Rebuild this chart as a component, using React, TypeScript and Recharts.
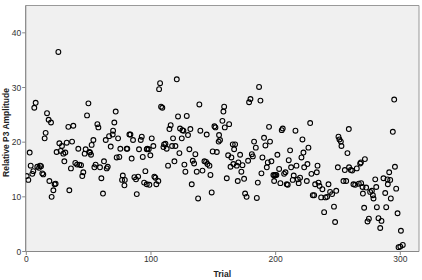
import React from 'react';
import { ScatterChart, Scatter, XAxis, YAxis, ReferenceArea, Label } from 'recharts';

const trials = [
  0.3, 1.6, 2.7, 3.5, 4.8, 5.6, 6.4, 7.5, 8.8, 10.2, 11, 11.8, 12.8, 13.6, 14.7, 15.5, 16.6, 17.9, 18.5, 19.8,
  20.3, 21.7, 22.7, 23.5, 24.3, 25.7, 26.5, 27.6, 28.6, 29.7, 30.5, 31.3, 32.4, 33.7, 34.5, 35.8, 36.7, 37.7, 39.3, 40.7,
  41.7, 42.5, 43.9, 44.9, 45.7, 46.8, 47.6, 48.7, 49.8, 50.6,
  51.1, 51.9, 52.4, 53.8, 54.6, 55.6, 57, 57.8, 59.1, 60.2, 61.5, 62.3, 63.7, 64.5, 65.3, 66.4, 67.7, 69.3, 69.6, 70.6,
  71.7, 72.5, 73.6, 74.6, 75.4, 76.8, 77.4, 78.7, 79.0, 80.5, 81, 82.7, 83.5, 84.5, 85.6, 86.7, 88, 88.6, 89.7, 90.4,
  91.8, 92.6, 93.4, 94.5, 95.5, 96.6, 96.6, 97.1, 98.2, 98.7, 99.5, 100.6, 101.9, 102.7, 103.5, 104.3, 105.9, 106.5, 107.3, 108.1,
  109.1, 110, 110.5,
  111.6, 112.6, 113.7, 114.8, 115.8, 116.9, 117.7, 118.8, 119.6, 120.7, 121.7, 122.8, 123.3, 124.7, 125.2, 126, 126.8, 127.6, 128.7, 129.7,
  130.8, 131.6, 132.7, 133.5, 134.6, 135.6, 136.7, 137.8, 138.8, 139.6, 141.3, 142.9, 144.2, 144.7, 145.3, 146.9, 147.7, 148.7, 149.5, 150.9,
  151.7, 152.8, 154.3, 154.6, 155.4, 157.3, 158.1, 158.7, 159.2, 160.8, 161.9, 162.7, 163.8, 164.5, 165.6, 166.1, 166.7,
  167.5, 168.8, 169.6, 170.1, 171.5, 172.5, 173.4, 174.7, 175.5, 176.7, 177.9, 178.7, 179.8, 180.9, 181.7, 182.7, 184.1, 184.9, 185.7, 186.7,
  187.8, 188.6, 189.4, 190.7, 191.8, 192.9, 193.7, 194.7, 195.5, 196.6, 198.2, 198.8, 199, 199.8, 200.6, 201.4, 202.8, 203.8, 204.9, 205.7,
  206.8, 207.9, 208.9, 209.7, 210.5, 211.6, 212.4, 213.7, 214.5, 215.9, 216.7, 217.8, 218.5, 219.6, 220.7, 221.5, 222.3, 222.9,
  225, 225.5, 226.3, 227.7, 228.7, 229.8, 230.9, 231.7, 233, 233.6, 234.4, 235.2, 236.5, 237.5, 238.9, 240, 241.3, 242.4, 243.7, 245.3,
  246.8, 247.7, 248.6, 249.9, 250.4, 251.2, 252.3, 252.8, 254.4, 255.5, 256.6, 257.6, 258.7, 258.9, 260.3, 261.4, 262.4, 263.8, 265.1, 266.7,
  267.8, 268.4, 268.6, 269.7, 270, 271, 271.6, 272.6, 273.7, 274.8, 275.8, 277.2, 278, 278.5, 279.9, 280.7,
  281.2, 282.5, 283.9, 284.9, 286.5, 287.9, 288.7, 289.7, 290, 291.1, 291.9, 292.4, 294, 295.1, 295.7, 296.7, 297.8, 298.6, 300, 300.5,
  302
];

const amplitudes = [
  13.8, 13.1, 18.1, 15.7, 14.2, 14.7, 26.3, 27.2, 15.5, 15.3, 15.7, 15.6, 14.3, 14.1, 20.7, 21.7, 25.3, 24.1, 12.9, 23.6,
  10.0, 11.2, 12.3, 12.4, 18.2, 36.5, 19.8, 18.4, 19.3, 17.9, 16.5, 18.1, 19.9, 22.8, 11.2, 15.2, 20.1, 23.0, 16.2, 15.9,
  18.8, 15.9, 15.8, 13.8, 14.5, 17.9, 18.7, 24.9, 27.1, 18.2,
  18.1, 17.7, 19.5, 20.4, 15.4, 15.9, 23.3, 22.7, 15.4, 13.4, 10.6, 16.5, 20.4, 15.2, 15.5, 21.1, 19.2, 21.4, 22.1, 23.6,
  25.6, 17.2, 20.7, 17.3, 18.8, 13.1, 13.9, 12.1, 13.1, 18.8, 18.8, 21.4, 21.4, 17.0, 20.4, 13.6, 13.2, 10.5, 13.7, 18.7,
  20.4, 21.0, 17.3, 12.6, 14.7, 12.3, 18.7, 18.8, 18.7, 12.2, 17.6, 20.7, 19.3, 13.7, 13.5, 12.3, 12.9, 29.7, 30.8, 26.5,
  26.3, 19.1, 19.6,
  19.7, 18.8, 15.7, 22.4, 23.1, 19.3, 20.7, 16.5, 19.3, 31.5, 24.7, 18.0, 22.5, 20.7, 22.2, 22.1, 15.9, 14.6, 24.8, 21.3,
  18.7, 22.4, 12.3, 16.6, 16.1, 17.8, 14.6, 9.7, 26.9, 22.1, 14.8, 16.5, 16.4, 21.4, 16.0, 15.7, 14.0, 10.8, 18.3, 22.9,
  22.7, 18.2, 20.1, 21.3, 20.4, 23.9, 25.6, 26.5, 22.7, 13.4, 17.6, 23.3, 15.5, 17.2, 19.6, 16.0, 18.7,
  19.6, 15.7, 12.9, 16.3, 17.7, 14.6, 15.8, 13.3, 10.6, 10.0, 16.6, 27.3, 27.9, 17.8, 17.4, 20.1, 19.0, 9.8, 12.6, 30.1,
  27.6, 14.3, 17.2, 20.8, 19.4, 15.4, 16.3, 22.8, 20.1, 16.5, 14.0, 12.9, 13.9, 14.0, 14.0, 17.7, 15.1, 12.5, 22.2, 22.5,
  14.2, 14.5, 12.3, 12.2, 16.7, 18.5, 15.4, 13.1, 13.9, 22.1, 15.7, 13.2, 12.5, 13.5, 17.2, 20.5, 18.1, 15.4,
  12.9, 16.0, 19.0, 23.5, 14.2, 10.3, 10.3, 12.3, 14.5, 15.7, 12.6, 12.0, 9.9, 11.4, 7.2, 9.9, 10.0, 12.3, 10.9, 10.5,
  8.2, 5.4, 11.1, 15.4, 21.0, 20.5, 20.1, 19.3, 12.9, 14.9, 12.9, 18.0, 22.4, 15.4, 14.9, 14.8, 12.3, 12.2, 15.2, 12.4,
  16.1, 16.3, 12.5, 11.8, 10.6, 8.0, 16.9, 11.7, 5.5, 6.0, 10.9, 11.1, 10.3, 9.7, 13.2, 11.8,
  8.1, 6.1, 4.3, 5.6, 13.4, 10.7, 8.1, 13.2, 12.3, 14.5, 13.1, 9.7, 21.9, 27.8, 15.5, 11.5, 7.0, 0.8, 0.9, 3.8,
  1.2
];

const xTicks = [0, 100, 200, 300];
const yTicks = [0, 10, 20, 30, 40];

const data = trials.map((t, i) => ({ trial: t, amp: amplitudes[i] }));

const FONT = 'Liberation Sans, Arial, sans-serif';

const Ring = (props: any) => {
  const { cx, cy } = props;
  if (cx == null || cy == null) return null;
  return <circle cx={cx} cy={cy} r={2.4} fill="none" stroke="#000" strokeWidth={1.1} />;
};

const YTitle = (props: any) => {
  const vb = props.viewBox || {};
  const cy = (vb.y ?? 5.5) + (vb.height ?? 246) / 2 + 4;
  const cx = 6;
  return (
    <text
      x={cx}
      y={cy}
      transform={`rotate(-90, ${cx}, ${cy})`}
      textAnchor="middle"
      dominantBaseline="central"
      style={{ fontSize: 8.5, fontWeight: 'bold', fill: '#222', fontFamily: FONT }}
    >
      Relative P3 Amplitude
    </text>
  );
};

const tickStyle = { fontSize: 8.5, fill: '#333', fontFamily: FONT };

export default function App() {
  return (
    <div style={{ position: 'absolute', left: 0, top: 0, width: 422, height: 280, background: '#fff' }}>
      <ScatterChart width={422} height={280} margin={{ top: 5.5, right: 3, left: 0, bottom: 0 }}>
        <XAxis
          type="number"
          dataKey="trial"
          domain={[-0.5, 315]}
          ticks={xTicks}
          height={28.5}
          stroke="#888"
          tickSize={3.5}
          tickMargin={1}
          tick={tickStyle}
          allowDataOverflow
        >
          <Label
            value="Trial"
            position="insideBottom"
            offset={3}
            style={{ fontSize: 8.5, fontWeight: 'bold', fill: '#222', fontFamily: FONT }}
          />
        </XAxis>
        <YAxis
          type="number"
          dataKey="amp"
          domain={[0, 45]}
          ticks={yTicks}
          width={25.7}
          stroke="#888"
          tickSize={3.5}
          tickMargin={1}
          tick={tickStyle}
          allowDataOverflow
        >
          <Label content={YTitle} />
        </YAxis>
        <ReferenceArea x1={-0.5} x2={315} y1={0} y2={45} fill="#f0f0f0" fillOpacity={1} stroke="#999" strokeWidth={1} ifOverflow="visible" />
        <Scatter data={data} shape={Ring} isAnimationActive={false} />
      </ScatterChart>
    </div>
  );
}
